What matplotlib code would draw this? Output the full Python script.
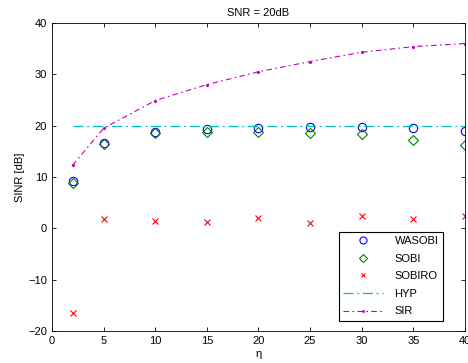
import matplotlib
matplotlib.use("Agg")
import matplotlib.pyplot as plt

plt.rcParams['font.family'] = ['Liberation Sans', 'DejaVu Sans']

eta = [2, 5, 10, 15, 20, 25, 30, 35, 40]
wasobi = [9.3, 16.6, 18.8, 19.3, 19.6, 19.8, 19.8, 19.6, 19.0]
sobi = [8.9, 16.4, 18.5, 18.8, 18.7, 18.6, 18.3, 17.3, 16.3]
sobiro = [-16.4, 1.9, 1.4, 1.3, 2.1, 1.0, 2.5, 1.9, 2.5]
hyp = [20, 20, 20, 20, 20, 20, 20, 20, 20]
sir = [12.3, 19.5, 24.9, 28.0, 30.5, 32.5, 34.3, 35.4, 36.0]

fig = plt.figure(figsize=(4.68, 3.63), dpi=100)
ax = fig.add_axes([0.111, 0.088, 0.8826, 0.8486])

ax.plot(eta, wasobi, 'o', mfc='none', mec='#0000ff', ms=6, mew=0.8, label='WASOBI')
ax.plot(eta, sobi, 'D', mfc='none', mec='#008000', ms=5, mew=0.8, label='SOBI')
ax.plot(eta, sobiro, 'x', color='#ff0000', ms=4, mew=0.8, label='SOBIRO')
ax.plot(eta, hyp, color='#00bfbf', ls=(0, (8, 3, 1.5, 3)), lw=0.9, label='HYP')
ax.plot(eta, sir, color='#bf00bf', ls=(0, (5, 3, 1.5, 3)), lw=0.8, marker='.', ms=2.5, label='SIR')

ax.set_xlim(0, 40)
ax.set_ylim(-20, 40)
ax.set_xticks([0, 5, 10, 15, 20, 25, 30, 35, 40])
ax.set_yticks([-20, -10, 0, 10, 20, 30, 40])
ax.tick_params(direction='in', top=True, right=True, labelsize=8, length=3, width=0.6)
for s in ax.spines.values():
    s.set_linewidth(0.6)
ax.set_xlabel('η', fontsize=8, labelpad=2)
ax.set_ylabel('SINR [dB]', fontsize=8, labelpad=2)
ax.set_title('SNR = 20dB', fontsize=8, pad=5)

leg = ax.legend(loc='lower right', bbox_to_anchor=(0.96, 0.015), fontsize=8,
                frameon=True, fancybox=False, edgecolor='black', framealpha=1,
                handlelength=3.6, borderpad=0.4, labelspacing=0.68, handletextpad=1.0,
                markerscale=0.85)
leg.get_frame().set_linewidth(0.8)

fig.savefig('out.png', dpi=100)
